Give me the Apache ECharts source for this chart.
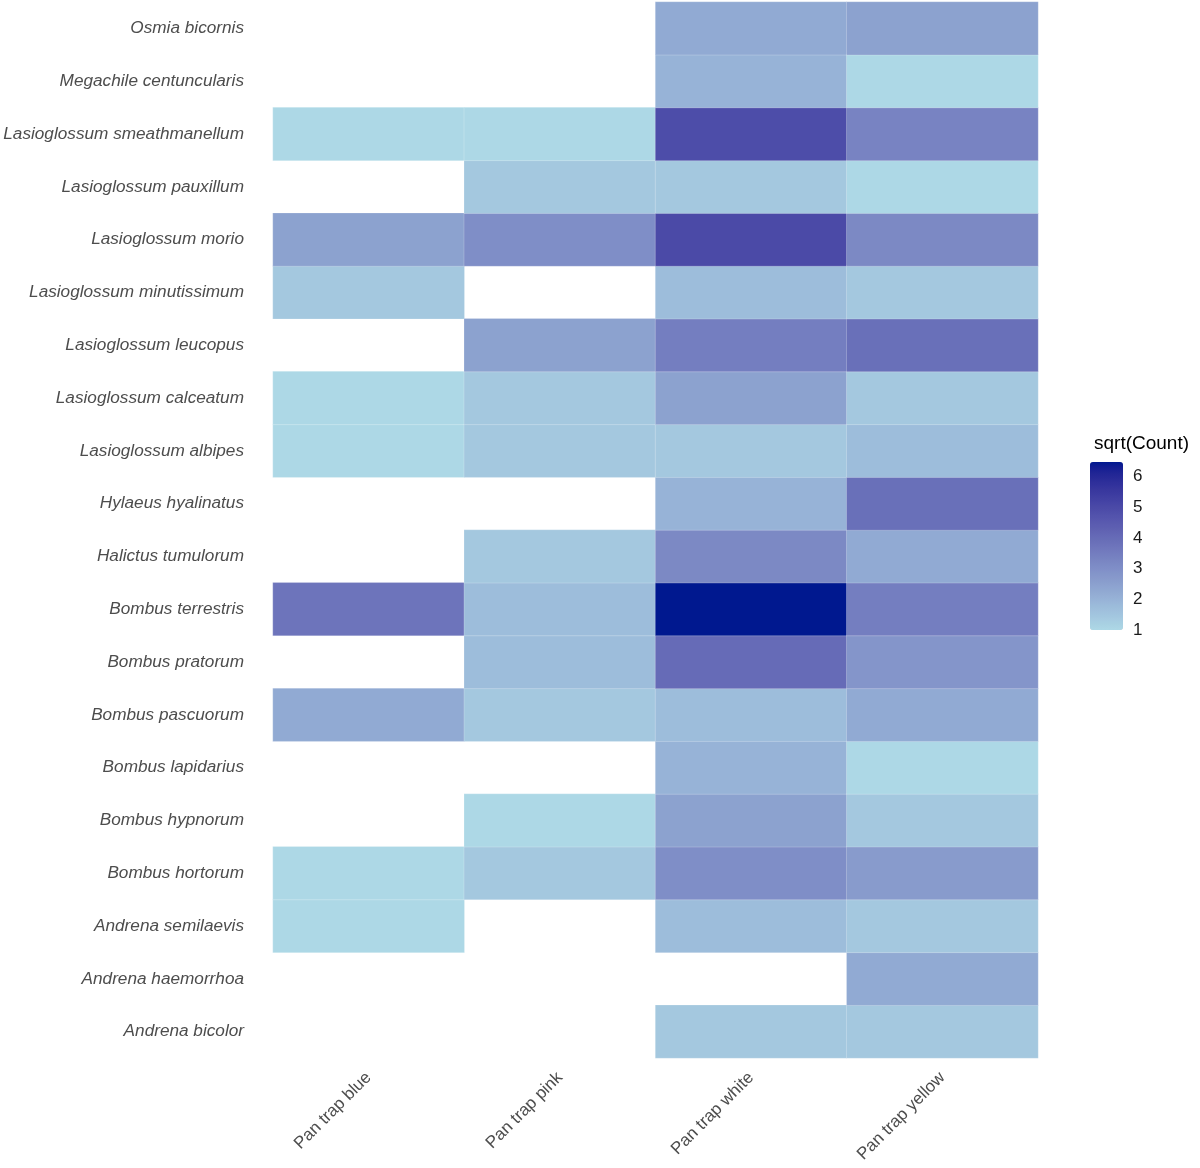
<!DOCTYPE html>
<html><head><meta charset="utf-8">
<script src="https://cdn.jsdelivr.net/npm/echarts@6/dist/echarts.min.js"></script>
<style>html,body{margin:0;padding:0;background:#fff}#c{width:1200px;height:1168px}</style>
</head><body><div id="c"></div>
<script>
// Categories (bottom to top as on the y axis)
const species = ["Andrena bicolor","Andrena haemorrhoa","Andrena semilaevis","Bombus hortorum","Bombus hypnorum","Bombus lapidarius","Bombus pascuorum","Bombus pratorum","Bombus terrestris","Halictus tumulorum","Hylaeus hyalinatus","Lasioglossum albipes","Lasioglossum calceatum","Lasioglossum leucopus","Lasioglossum minutissimum","Lasioglossum morio","Lasioglossum pauxillum","Lasioglossum smeathmanellum","Megachile centuncularis","Osmia bicornis"];
const traps = ["Pan trap blue","Pan trap pink","Pan trap white","Pan trap yellow"];
// Counts per trap, one entry per species (same order as species); null = no record
const countBlue   = [null,null,1,1,null,null,5,null,14,null,null,1,1,null,2,6,null,1,null,null];
const countPink   = [null,null,null,2,1,null,2,3,3,2,null,2,2,6,null,9,2,1,null,null];
const countWhite  = [2,null,3,9,6,4,3,16,42,10,4,2,6,12,3,25,2,24,4,5];
const countYellow = [2,5,2,7,2,1,5,8,12,5,15,3,2,15,2,10,1,11,1,6];
const legendTicks = [1,2,3,4,5,6];

const columns = [countBlue,countPink,countWhite,countYellow];
const data = [];
let vmax = 1;
columns.forEach((col,xi)=>col.forEach((c,yi)=>{
  if(c!=null){const v=Math.sqrt(c); data.push([xi,yi,v]); if(v>vmax) vmax=v;}
}));

// Lab interpolation between low and high (like ggplot's gradient)
function hex2rgb(h){return [parseInt(h.slice(1,3),16),parseInt(h.slice(3,5),16),parseInt(h.slice(5,7),16)];}
function s2l(c){c/=255;return c<=0.04045?c/12.92:Math.pow((c+0.055)/1.055,2.4);}
function l2s(c){c=c<=0.0031308?12.92*c:1.055*Math.pow(c,1/2.4)-0.055;return Math.max(0,Math.min(255,Math.round(c*255)));}
function rgb2lab(rgb){const [r,g,b]=rgb.map(s2l);
  let X=(0.4124*r+0.3576*g+0.1805*b)/0.95047,Y=(0.2126*r+0.7152*g+0.0722*b),Z=(0.0193*r+0.1192*g+0.9505*b)/1.08883;
  const f=t=>t>0.008856?Math.cbrt(t):7.787*t+16/116;
  const fx=f(X),fy=f(Y),fz=f(Z);return [116*fy-16,500*(fx-fy),200*(fy-fz)];}
function lab2hex(lab){const fy=(lab[0]+16)/116,fx=fy+lab[1]/500,fz=fy-lab[2]/200;
  const fi=t=>t*t*t>0.008856?t*t*t:(t-16/116)/7.787;
  const X=fi(fx)*0.95047,Y=fi(fy),Z=fi(fz)*1.08883;
  const r=3.2406*X-1.5372*Y-0.4986*Z,g=-0.9689*X+1.8758*Y+0.0415*Z,b=0.0557*X-0.2040*Y+1.0570*Z;
  return '#'+[r,g,b].map(l2s).map(v=>v.toString(16).padStart(2,'0')).join('');}
const lo=rgb2lab(hex2rgb('#ADD8E6')), hi=rgb2lab(hex2rgb('#00188F'));
const stops=[];for(let i=0;i<=30;i++){const t=i/30;stops.push(lab2hex([0,1,2].map(k=>lo[k]+(hi[k]-lo[k])*t)));}

const FONT='"Liberation Sans", Arial, sans-serif';
const chart=echarts.init(document.getElementById('c'),null,{renderer:'canvas'});
chart.setOption({
  animation:false,
  backgroundColor:'#ffffff',
  title:{text:'sqrt(Count)',left:1089,top:429,textStyle:{fontFamily:FONT,fontSize:19,fontWeight:'normal',color:'#000'}},
  grid:[
    {left:273,right:162,top:2,bottom:110},
    {left:1090,width:33,top:462,height:168}
  ],
  xAxis:[
    {type:'category',data:traps,gridIndex:0,axisLine:{show:false},axisTick:{show:false},splitLine:{show:false},
     axisLabel:{rotate:45,margin:17,fontFamily:FONT,fontSize:17,color:'#4D4D4D',interval:0}},
    {type:'value',gridIndex:1,show:false,min:0,max:1}
  ],
  yAxis:[
    {type:'category',data:species,gridIndex:0,axisLine:{show:false},axisTick:{show:false},splitLine:{show:false},
     axisLabel:{margin:29,fontFamily:FONT,fontSize:17.2,fontStyle:'italic',color:'#4D4D4D',interval:0}},
    {type:'value',gridIndex:1,position:'right',min:1,max:vmax,interval:1,
     axisLine:{show:false},splitLine:{show:false},
     axisTick:{show:true,inside:true,length:6,lineStyle:{color:'#ffffff',width:1},customValues:legendTicks},
     axisLabel:{margin:10,fontFamily:FONT,fontSize:17,color:'#1a1a1a',customValues:legendTicks}},
    {type:'value',gridIndex:1,position:'left',min:1,max:vmax,interval:1,
     axisLine:{show:false},splitLine:{show:false},axisLabel:{show:false},
     axisTick:{show:true,inside:true,length:6,lineStyle:{color:'#ffffff',width:1},customValues:legendTicks}}
  ],
  visualMap:{type:'continuous',min:1,max:vmax,seriesIndex:0,calculable:false,show:true,
    left:1090,top:462,itemWidth:33,itemHeight:168,padding:0,text:null,showLabel:false,
    textStyle:{color:'transparent'},inRange:{color:stops}},
  series:[
    {type:'heatmap',xAxisIndex:0,yAxisIndex:0,data:data,
     itemStyle:{borderColor:'rgba(255,255,255,0.35)',borderWidth:0.6},emphasis:{disabled:true}},
    {type:'line',xAxisIndex:1,yAxisIndex:1,data:[],silent:true}
  ]
});
</script></body></html>
